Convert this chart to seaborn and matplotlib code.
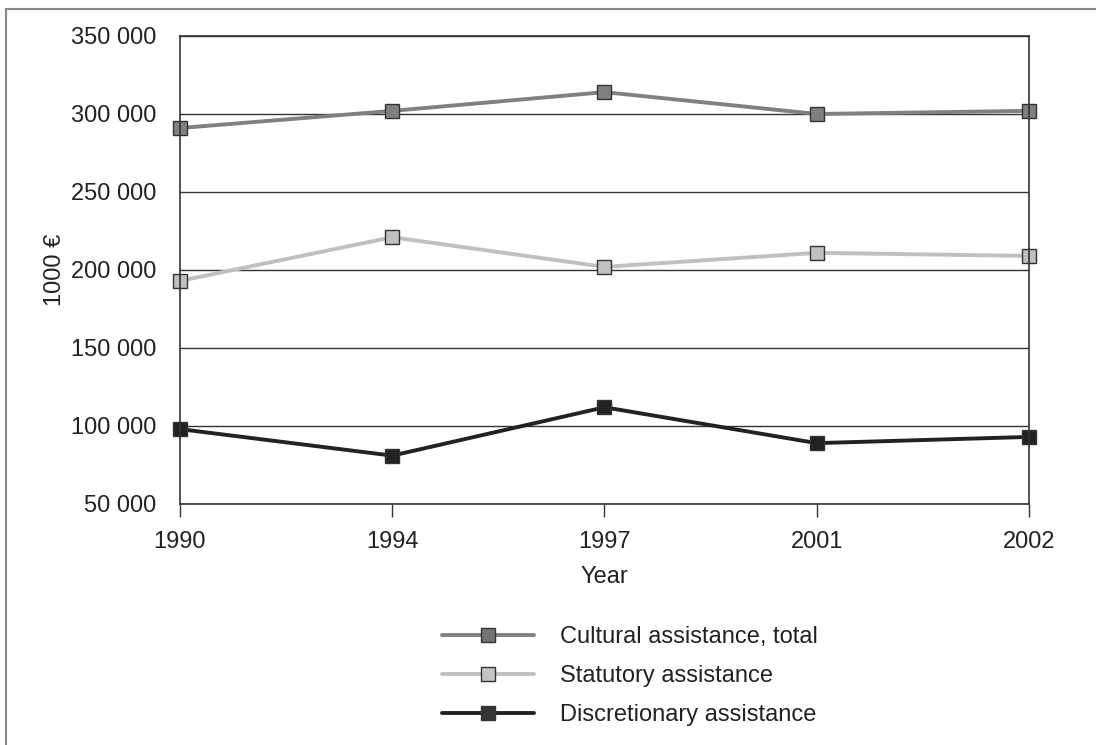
"""Cultural assistance 1990-2002 — line chart re-draw."""
import matplotlib
matplotlib.use("Agg")
import matplotlib.pyplot as plt
from matplotlib.lines import Line2D
from matplotlib.ticker import FuncFormatter
import pandas as pd
import seaborn as sns

YEARS = ["1990", "1994", "1997", "2001", "2002"]
TOTAL = [291000, 302000, 314000, 300000, 302000]
STATUTORY = [193000, 221000, 202000, 211000, 209000]
DISCRETIONARY = [98000, 81000, 112000, 89000, 93000]

SERIES = ["Cultural assistance, total", "Statutory assistance", "Discretionary assistance"]
COLORS = {SERIES[0]: "#808080", SERIES[1]: "#c0c0c0", SERIES[2]: "#222222"}
MARKER_FACE = {SERIES[0]: "#737373", SERIES[1]: "#c4c4c4", SERIES[2]: "#333333"}

sns.set_style("white")
plt.rcParams["font.family"] = ["Liberation Sans Narrow", "Liberation Sans", "DejaVu Sans"]

df = pd.DataFrame({
    "year": YEARS * 3,
    "value": TOTAL + STATUTORY + DISCRETIONARY,
    "series": [s for s in SERIES for _ in YEARS],
})

fig = plt.figure(figsize=(10.96, 7.45), dpi=100)
ax = fig.add_axes([0.1642, 0.3235, 0.7747, 0.6282])

sns.lineplot(data=df, x="year", y="value", hue="series", hue_order=SERIES,
             palette=COLORS, marker="s", markersize=10, linewidth=2.8,
             markeredgecolor="#333333", markeredgewidth=1.0, ax=ax, legend=True)

# marker faces per series + keep edge markers unclipped
for line in ax.get_lines():
    lbl = line.get_label()
    if lbl in MARKER_FACE:
        line.set_markerfacecolor(MARKER_FACE[lbl])
    line.set_clip_on(False)

ax.set_xlim(0, len(YEARS) - 1)
ax.set_ylim(50000, 350000)
ax.set_yticks(range(50000, 350001, 50000))
ax.yaxis.set_major_formatter(FuncFormatter(lambda v, _: f"{int(v):,}".replace(",", " ")))
ax.yaxis.grid(True, color="#333333", lw=1.0)
ax.set_axisbelow(True)
for sp in ax.spines.values():
    sp.set_color("#333333")
    sp.set_linewidth(1.2)

ax.tick_params(axis="y", length=0, pad=17, labelsize=17, colors="#222222")
ax.tick_params(axis="x", length=9.5, width=1.0, color="#333333", direction="out",
               bottom=True, pad=10, labelsize=17, labelcolor="#222222")
ax.set_xlabel("Year", fontsize=17, color="#222222", labelpad=9)
ax.set_ylabel("1000 €", fontsize=17, color="#222222")
ax.yaxis.set_label_coords(-0.134, 0.5)

h, l = ax.get_legend_handles_labels()
ax.legend_.remove()
for hh in h:
    lbl = hh.get_label()
    if lbl in MARKER_FACE:
        hh.set_markerfacecolor(MARKER_FACE[lbl])
fig.legend(h, l, loc="upper left", bbox_to_anchor=(0.403, 0.160), frameon=False,
           fontsize=17, handlelength=3.9, handletextpad=1.1, labelspacing=0.72,
           borderpad=0, borderaxespad=0, labelcolor="#222222")

# outer frame (left and top edges only visible)
fig.add_artist(Line2D([0.0055, 0.0055], [0, 0.988], transform=fig.transFigure,
                      color="#888888", lw=1.5))
fig.add_artist(Line2D([0.0055, 1], [0.988, 0.988], transform=fig.transFigure,
                      color="#888888", lw=1.5))

fig.savefig("out.png", dpi=100, facecolor="white")
